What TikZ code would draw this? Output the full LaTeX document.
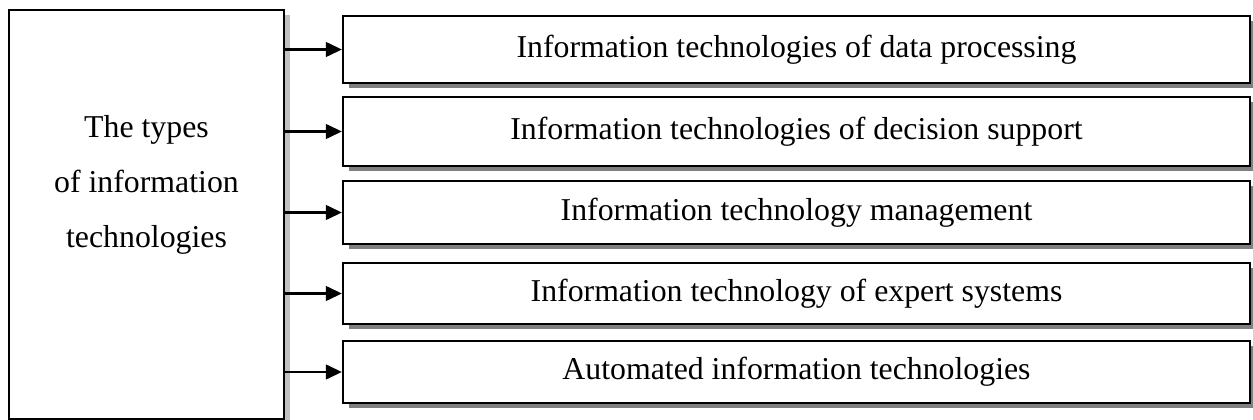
\documentclass[tikz,border=0pt]{standalone}
\usepackage{fontspec}
\setmainfont{Liberation Serif}
\usetikzlibrary{arrows.meta,shadows}

\tikzset{every picture/.style={line width=1.7pt}}
\tikzset{
  kindbox/.style={draw, fill=white, inner sep=0pt, minimum width=680.25pt,
    font=\fontsize{23.85}{28}\selectfont,
    drop shadow={shadow xshift=4.5pt, shadow yshift=-4pt, opacity=1,
      fill={rgb, 255:red, 128; green, 128; blue, 128}}},
  mainbox/.style={draw, fill=white, inner sep=0pt, minimum width=206.25pt, minimum height=306.75pt,
    drop shadow={shadow xshift=4.5pt, shadow yshift=-4pt, opacity=1,
      fill={rgb, 255:red, 192; green, 192; blue, 192}}},
  kindarrow/.style={-{Triangle[length=12pt,width=11pt]}}
}

\begin{document}
\begin{tikzpicture}[x=0.75pt,y=0.75pt,yscale=-1,xscale=1]
\useasboundingbox (0,0) rectangle (1253,420);

%Shape: Rectangle [id:types]
\node [mainbox] (types) at (146.5,214.5) {};
% Text Node
\node [font=\fontsize{23.85}{41.25}\selectfont, align=center, inner sep=0pt] (typestext) at (146.5,184.5) {The types\\of information\\technologies};

%Shape: Rectangle [id:kinds]
\node [kindbox, minimum height=50.25pt] (k1) at (796.5,49.5) {Information technologies of data processing};
\node [kindbox, minimum height=51.75pt] (k2) at (796.5,131.5) {Information technologies of decision support};
\node [kindbox, minimum height=47.25pt] (k3) at (796.5,212.5) {Information technology management};
\node [kindbox, minimum height=45.75pt] (k4) at (796.5,293.5) {Information technology of expert systems};
\node [kindbox, minimum height=46.5pt] (k5) at (796.5,372) {Automated information technologies};

%Straight Lines [id:arrows]
\foreach \k in {k1,k2,k3,k4,k5}
  \draw [kindarrow] (types.east |- \k.west) -- (\k.west);

\end{tikzpicture}
\end{document}
